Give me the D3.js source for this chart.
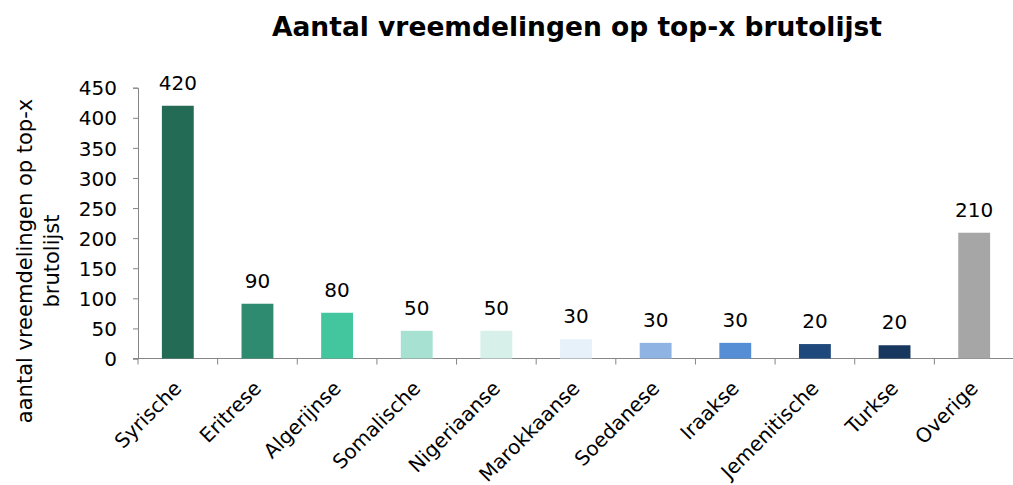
<!DOCTYPE html>
<html lang="nl">
<head>
  <meta charset="UTF-8">
  <script src="https://d3js.org/d3.v7.min.js"></script>
  <title>Aantal vreemdelingen op top-x brutolijst</title>
  <style>
    body { margin: 0; background: #fff; }
    text { font-family: "DejaVu Sans", Verdana, sans-serif; fill: #000; }
  </style>
</head>
<body>
  <svg width="1013" height="485"></svg>
  <script>
    // gegevens uit de grafiek
    const categories = ["Syrische", "Eritrese", "Algerijnse", "Somalische", "Nigeriaanse",
      "Marokkaanse", "Soedanese", "Iraakse", "Jemenitische", "Turkse", "Overige"];
    const values = [420, 91, 76, 46, 46, 32, 26, 26, 24, 22, 209];
    const labels = ["420", "90", "80", "50", "50", "30", "30", "30", "20", "20", "210"];
    const colors = ["#246b55", "#2e8b6f", "#43c59e", "#a6e1d1", "#d7f0e9",
      "#e6f1f9", "#8fb4e3", "#558ed5", "#1f497d", "#17375e", "#a6a6a6"];
    const yTicks = [0, 50, 100, 150, 200, 250, 300, 350, 400, 450];

    const svg = d3.select("svg");

    const xScale = d3.scaleBand().domain(categories).range([138, 1014]).paddingInner(0.6).paddingOuter(0.3);
    const yScale = d3.scaleLinear().domain([0, 450]).range([358.5, 87.7]);

    // titel
    svg.append("text")
      .attr("x", 577).attr("y", 36)
      .attr("text-anchor", "middle")
      .style("font-size", "26.5px").style("font-weight", "bold")
      .text("Aantal vreemdelingen op top-x brutolijst");

    // y-as
    const yAxis = d3.axisLeft(yScale).tickValues(yTicks).tickSize(5).tickPadding(16);
    const yG = svg.append("g").attr("transform", "translate(138,0)").call(yAxis);
    yG.selectAll("text").style("font-size", "20px").attr("dy", "0.36em");
    yG.select(".domain").attr("stroke", "#868686");
    yG.selectAll(".tick line").attr("stroke", "#868686");

    // x-as: streepjes tussen de categorieën
    const step = xScale.step();
    const xG = svg.append("g");
    xG.append("line")
      .attr("x1", 133).attr("x2", 1014)
      .attr("y1", yScale(0)).attr("y2", yScale(0))
      .attr("stroke", "#868686");
    xG.selectAll(".sep")
      .data(categories)
      .join("line")
      .attr("x1", (d) => xScale(d) - (step - xScale.bandwidth()) / 2)
      .attr("x2", (d) => xScale(d) - (step - xScale.bandwidth()) / 2)
      .attr("y1", yScale(0)).attr("y2", yScale(0) + 6)
      .attr("stroke", "#868686");

    // staven
    svg.selectAll(".bar")
      .data(categories)
      .join("rect")
      .attr("x", (d) => xScale(d))
      .attr("width", xScale.bandwidth())
      .attr("y", (d, i) => yScale(values[i]))
      .attr("height", (d, i) => yScale(0) - yScale(values[i]))
      .attr("fill", (d, i) => colors[i]);

    // waardelabels
    svg.selectAll(".lbl")
      .data(categories)
      .join("text")
      .attr("x", (d) => xScale(d) + xScale.bandwidth() / 2)
      .attr("y", (d, i) => yScale(values[i]) - 16)
      .attr("text-anchor", "middle")
      .style("font-size", "20px")
      .text((d, i) => labels[i]);

    // categorielabels, schuin
    svg.selectAll(".cat")
      .data(categories)
      .join("text")
      .attr("text-anchor", "end")
      .attr("transform", (d) => `translate(${xScale(d) + xScale.bandwidth() / 2 + 5},${yScale(0) + 31}) rotate(-45)`)
      .style("font-size", "20px")
      .text((d) => d);

    // y-astitel, twee regels
    const yTitle = svg.append("text")
      .attr("transform", "translate(32,261) rotate(-90)")
      .attr("text-anchor", "middle")
      .style("font-size", "21px");
    yTitle.append("tspan").attr("x", 0).attr("y", 0).text("aantal vreemdelingen op top-x");
    yTitle.append("tspan").attr("x", 0).attr("y", 27).text("brutolijst");
  </script>
</body>
</html>
